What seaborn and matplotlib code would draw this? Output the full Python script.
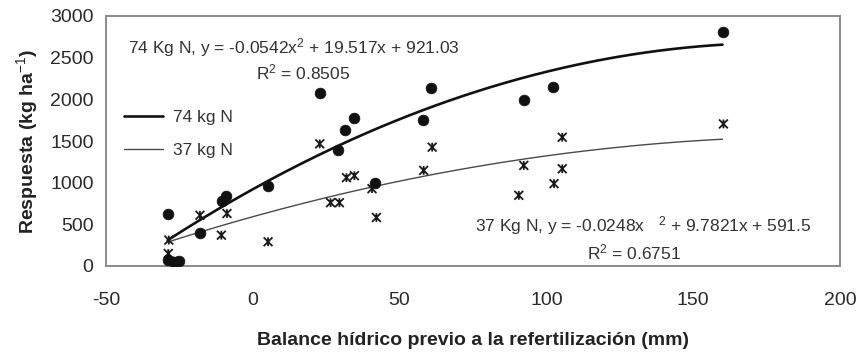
import numpy as np
import pandas as pd
import matplotlib
matplotlib.use("Agg")
import matplotlib.pyplot as plt
from matplotlib.path import Path
from matplotlib.lines import Line2D
import seaborn as sns

# ---- data ----
x74 = [-28.8, -28.8, -27.0, -25.3, -18.0, -10.5, -9.1, 5.2, 22.8, 28.9, 31.3,
       34.3, 41.7, 58.0, 60.7, 92.3, 102.3, 160.3]
y74 = [621, 72, 51, 63, 398, 780, 836, 955, 2071, 1394, 1633,
       1772, 998, 1752, 2135, 1992, 2154, 2812]

x37 = [-28.6, -28.8, -27.0, -25.5, -18.0, -10.7, -8.8, 5.2, 22.8, 26.5, 29.5,
       31.9, 34.6, 40.6, 42.1, 58.2, 61.1, 90.6, 92.3, 102.6, 105.4, 105.4, 160.3]
y37 = [311, 150, 60, 45, 609, 370, 630, 291, 1466, 760, 760,
       1060, 1084, 928, 582, 1147, 1426, 848, 1207, 988, 1167, 1545, 1705]

# trendline coefficients printed on the chart (a, b, c for a*x^2 + b*x + c)
coef74 = [-0.0542, 19.517, 921.03]
coef37 = [-0.0248, 9.7821, 591.5]
trend_range = [-29, 160]

series_names = ["74 kg N", "37 kg N"]
x_ticks = [-50, 0, 50, 100, 150, 200]
y_ticks = [0, 500, 1000, 1500, 2000, 2500, 3000]

eq74 = "74 Kg N, y = -0.0542x$^{2}$ + 19.517x + 921.03"
r74 = "R$^{2}$ = 0.8505"
eq37 = "37 Kg N, y = -0.0248x   $^{2}$ + 9.7821x + 591.5"
r37 = "R$^{2}$ = 0.6751"
xlabel = "Balance hídrico previo a la refertilización (mm)"
ylabel = "Respuesta (kg ha$^{-1}$)"

# ---- build tables ----
pts74 = pd.DataFrame({"x": x74, "y": y74})
pts37 = pd.DataFrame({"x": x37, "y": y37})
xx = np.linspace(trend_range[0], trend_range[1], 200)
fit74 = pd.DataFrame({"x": xx, "y": np.polyval(coef74, xx)})
fit37 = pd.DataFrame({"x": xx, "y": np.polyval(coef37, xx)})

sns.set_style("white")
plt.rcParams["font.family"] = ["Liberation Sans", "DejaVu Sans"]
plt.rcParams["axes.unicode_minus"] = False
plt.rcParams["mathtext.fontset"] = "custom"
plt.rcParams["mathtext.rm"] = "Liberation Sans"
plt.rcParams["mathtext.it"] = "Liberation Sans"
plt.rcParams["mathtext.bf"] = "Liberation Sans:bold"

fig = plt.figure(figsize=(8.67, 3.6), dpi=100)
ax = fig.add_axes([106 / 867, 1 - 266 / 360, (840 - 106) / 867, (266 - 16) / 360])

star = Path([(-1, -1), (1, 1), (-1, 1), (1, -1), (0, -1), (0, 1)],
            [Path.MOVETO, Path.LINETO, Path.MOVETO, Path.LINETO, Path.MOVETO, Path.LINETO])

sns.lineplot(data=fit37, x="x", y="y", ax=ax, color="#4a4a4a", lw=1.0, zorder=2)
sns.lineplot(data=fit74, x="x", y="y", ax=ax, color="#111111", lw=1.9, zorder=2)
sns.scatterplot(data=pts37, x="x", y="y", ax=ax, marker=star, s=40,
                facecolor="none", edgecolor="#1a1a1a", linewidth=1.3, zorder=3)
sns.scatterplot(data=pts74, x="x", y="y", ax=ax, marker="o", s=60,
                color="#111111", edgecolor="#111111", linewidth=0.5, zorder=4)

ax.set_xlim(-50, 200)
ax.set_ylim(0, 3000)
ax.set_xticks(x_ticks)
ax.set_yticks(y_ticks)
ax.tick_params(axis="both", direction="out", width=0.8, color="#888888",
               labelsize=14, labelcolor="#2a2a2a")
ax.tick_params(axis="y", length=4, pad=5)
ax.tick_params(axis="x", length=3, pad=16)
for sp in ax.spines.values():
    sp.set_visible(True)
    sp.set_color("#8a8a8a")
    sp.set_linewidth(1.4)

ax.set_xlabel(xlabel, fontsize=14, fontweight="bold", color="#222222", labelpad=16)
ax.set_ylabel(ylabel, fontsize=14, fontweight="bold", color="#222222", labelpad=7)

tc = "#333333"
fs = 12.5
ax.text(14.1, 2617, eq74, fontsize=fs, color=tc, ha="center", va="center")
ax.text(17.2, 2319, r74, fontsize=fs, color=tc, ha="center", va="center")
ax.text(132.8, 482, eq37, fontsize=fs, color=tc, ha="center", va="center")
ax.text(129.7, 167, r37, fontsize=fs, color=tc, ha="center", va="center")

handles = [Line2D([], [], color="#111111", lw=1.9),
           Line2D([], [], color="#4a4a4a", lw=1.0)]
leg = ax.legend(handles, series_names, loc="center left",
                bbox_to_anchor=(0.0245, 0.528), frameon=False, fontsize=fs,
                handlelength=2.25, handletextpad=0.6, labelspacing=1.05,
                borderaxespad=0.0, borderpad=0.0)
for t in leg.get_texts():
    t.set_color(tc)

fig.savefig("out.png", dpi=100)
